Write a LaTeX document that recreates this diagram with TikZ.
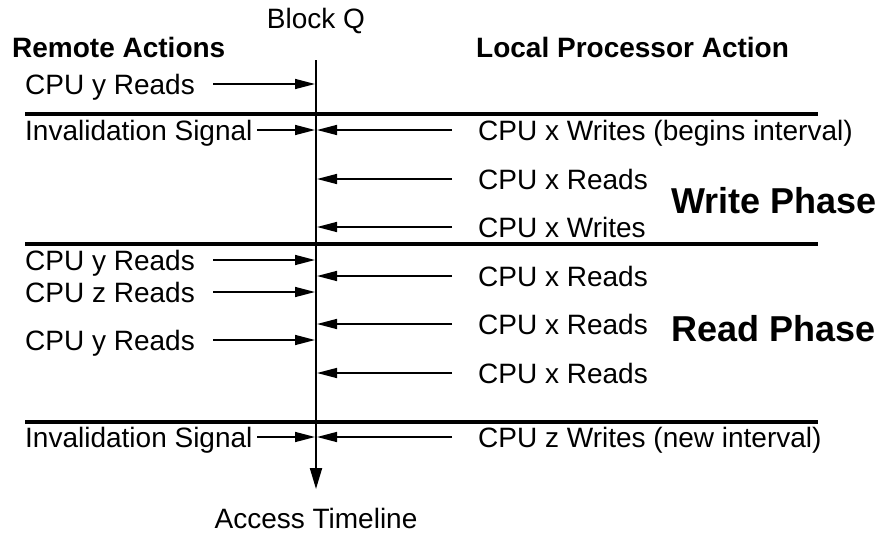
\documentclass[tikz,border=0pt]{standalone}
\usepackage{fontspec}
\setmainfont{Liberation Sans}
\usetikzlibrary{arrows.meta}
\begin{document}
\begin{tikzpicture}[x=1pt,y=-1pt,
  lbl/.style={inner sep=0pt,anchor=base west,font=\fontsize{28}{32}\selectfont},
  ctr/.style={inner sep=0pt,anchor=base,font=\fontsize{28}{32}\selectfont},
  hdr/.style={inner sep=0pt,anchor=base west,font=\bfseries\fontsize{28}{32}\selectfont},
  phase/.style={inner sep=0pt,anchor=base west,font=\bfseries\fontsize{36}{40}\selectfont},
  sepline/.style={line width=4pt},
  axis/.style={line width=2pt,-{Triangle[length=21pt,width=12pt]}},
  sig/.style={line width=1.5pt,-{Triangle[length=20pt,width=10pt]}}]
\useasboundingbox (0,0) rectangle (881,533);
% titles
\node[ctr] (blockq) at (316,28) {Block Q};
\node[hdr] (remote) at (12,57) {Remote Actions};
\node[hdr] (local) at (476,57) {Local Processor Action};
\node[ctr] (timeline) at (316,528) {Access Timeline};
\node[phase] (write) at (671,213) {Write Phase};
\node[phase] (read) at (671,341) {Read Phase};
% timeline axis
\coordinate (ttop) at (316,60);
\coordinate (tbot) at (316,489);
\draw[axis] (ttop) -- (tbot);
% separators
\coordinate (s1a) at (25,114); \coordinate (s1b) at (818,114);
\coordinate (s2a) at (25,244); \coordinate (s2b) at (818,244);
\coordinate (s3a) at (25,422); \coordinate (s3b) at (818,422);
\draw[sepline] (s1a) -- (s1b);
\draw[sepline] (s2a) -- (s2b);
\draw[sepline] (s3a) -- (s3b);
% left labels
\node[lbl] (l1) at (25,94) {CPU y Reads};
\node[lbl] (l2) at (25,140) {Invalidation Signal};
\node[lbl] (l3) at (25,270) {CPU y Reads};
\node[lbl] (l4) at (25,302) {CPU z Reads};
\node[lbl] (l5) at (25,350) {CPU y Reads};
\node[lbl] (l6) at (25,447) {Invalidation Signal};
% right labels
\node[lbl] (r1) at (478,140) {CPU x Writes (begins interval)};
\node[lbl] (r2) at (478,189) {CPU x Reads};
\node[lbl] (r3) at (478,237) {CPU x Writes};
\node[lbl] (r4) at (478,286) {CPU x Reads};
\node[lbl] (r5) at (478,334) {CPU x Reads};
\node[lbl] (r6) at (478,383) {CPU x Reads};
\node[lbl] (r7) at (478,447) {CPU z Writes (new interval)};
% left arrows
\foreach \n/\xs/\y in {1/213/84, 2/257/130, 3/213/260, 4/213/292, 5/213/340, 6/257/437}{
  \coordinate (la\n) at (\xs,\y);
  \coordinate (lt\n) at (315,\y);
  \draw[sig] (la\n) -- (lt\n);
}
% right arrows
\foreach \n/\y in {1/130, 2/179, 3/227, 4/276, 5/324, 6/373, 7/437}{
  \coordinate (ra\n) at (452,\y);
  \coordinate (rt\n) at (317,\y);
  \draw[sig] (ra\n) -- (rt\n);
}
\end{tikzpicture}
\end{document}
